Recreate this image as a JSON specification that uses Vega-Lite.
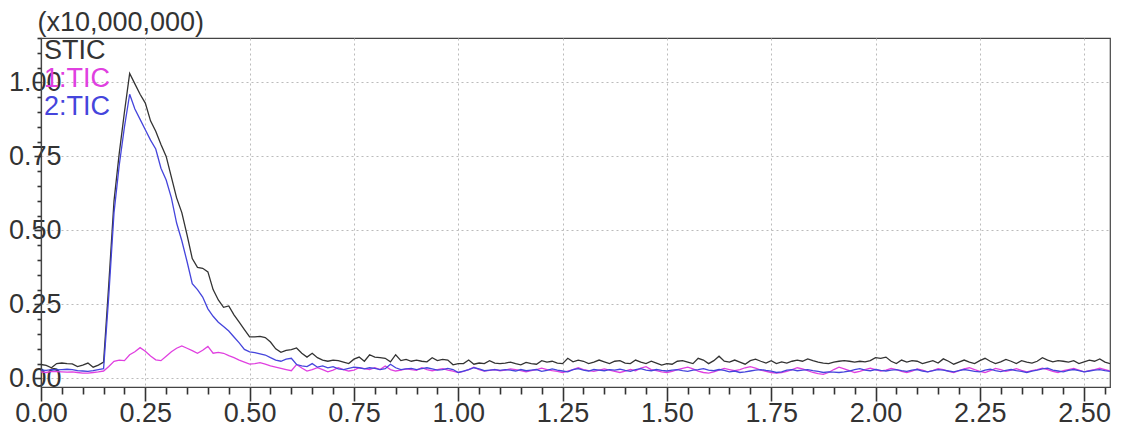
{
"$schema": "https://vega.github.io/schema/vega-lite/v6.json",
"width": 1069,
"height": 349,
"autosize": {"type": "none"},
"padding": {"left": 41, "top": 38, "right": 20, "bottom": 48},
"background": "white",
"config": {"view": {"stroke": "#444444", "strokeWidth": 1.2}, "font": "Liberation Sans"},
"data": {"values": [
{"t":0,"s":0.047,"a":0.022,"b":0.028},
{"t":0.0125,"s":0.044,"a":0.02,"b":0.027},
{"t":0.025,"s":0.036,"a":0.024,"b":0.03},
{"t":0.0375,"s":0.05,"a":0.023,"b":0.029},
{"t":0.05,"s":0.052,"a":0.022,"b":0.03},
{"t":0.0625,"s":0.05,"a":0.021,"b":0.031},
{"t":0.075,"s":0.049,"a":0.022,"b":0.03},
{"t":0.0875,"s":0.04,"a":0.02,"b":0.026},
{"t":0.1,"s":0.045,"a":0.018,"b":0.025},
{"t":0.1125,"s":0.052,"a":0.018,"b":0.024},
{"t":0.125,"s":0.038,"a":0.02,"b":0.026},
{"t":0.1375,"s":0.045,"a":0.022,"b":0.03},
{"t":0.15,"s":0.055,"a":0.025,"b":0.033},
{"t":0.1625,"s":0.32,"a":0.04,"b":0.28},
{"t":0.175,"s":0.6,"a":0.058,"b":0.56},
{"t":0.1875,"s":0.76,"a":0.062,"b":0.72},
{"t":0.2,"s":0.9,"a":0.06,"b":0.85},
{"t":0.2125,"s":1.03,"a":0.08,"b":0.96},
{"t":0.225,"s":0.995,"a":0.09,"b":0.91},
{"t":0.2375,"s":0.96,"a":0.104,"b":0.875},
{"t":0.25,"s":0.93,"a":0.092,"b":0.84},
{"t":0.2625,"s":0.87,"a":0.076,"b":0.805},
{"t":0.275,"s":0.835,"a":0.063,"b":0.775},
{"t":0.2875,"s":0.79,"a":0.06,"b":0.71},
{"t":0.3,"s":0.75,"a":0.075,"b":0.67},
{"t":0.3125,"s":0.68,"a":0.09,"b":0.61},
{"t":0.325,"s":0.61,"a":0.102,"b":0.525},
{"t":0.3375,"s":0.56,"a":0.11,"b":0.465},
{"t":0.35,"s":0.485,"a":0.102,"b":0.395},
{"t":0.3625,"s":0.405,"a":0.094,"b":0.32},
{"t":0.375,"s":0.375,"a":0.085,"b":0.3},
{"t":0.3875,"s":0.372,"a":0.095,"b":0.275},
{"t":0.4,"s":0.36,"a":0.108,"b":0.235},
{"t":0.4125,"s":0.3,"a":0.085,"b":0.21},
{"t":0.425,"s":0.265,"a":0.088,"b":0.19},
{"t":0.4375,"s":0.24,"a":0.085,"b":0.175},
{"t":0.45,"s":0.245,"a":0.077,"b":0.16},
{"t":0.4625,"s":0.215,"a":0.07,"b":0.14},
{"t":0.475,"s":0.19,"a":0.062,"b":0.12},
{"t":0.4875,"s":0.165,"a":0.055,"b":0.098},
{"t":0.5,"s":0.14,"a":0.048,"b":0.09},
{"t":0.5125,"s":0.14,"a":0.05,"b":0.087},
{"t":0.525,"s":0.142,"a":0.053,"b":0.083},
{"t":0.5375,"s":0.138,"a":0.048,"b":0.079},
{"t":0.55,"s":0.123,"a":0.042,"b":0.07},
{"t":0.5625,"s":0.1,"a":0.038,"b":0.062},
{"t":0.575,"s":0.088,"a":0.034,"b":0.058},
{"t":0.5875,"s":0.095,"a":0.03,"b":0.065},
{"t":0.6,"s":0.097,"a":0.026,"b":0.068},
{"t":0.6125,"s":0.103,"a":0.047,"b":0.047},
{"t":0.625,"s":0.085,"a":0.035,"b":0.042},
{"t":0.6375,"s":0.072,"a":0.025,"b":0.04},
{"t":0.65,"s":0.085,"a":0.03,"b":0.05},
{"t":0.6625,"s":0.07,"a":0.036,"b":0.038},
{"t":0.675,"s":0.062,"a":0.03,"b":0.042},
{"t":0.6875,"s":0.058,"a":0.022,"b":0.036},
{"t":0.7,"s":0.062,"a":0.028,"b":0.04},
{"t":0.7125,"s":0.06,"a":0.036,"b":0.032},
{"t":0.725,"s":0.055,"a":0.03,"b":0.03},
{"t":0.7375,"s":0.05,"a":0.025,"b":0.034},
{"t":0.75,"s":0.065,"a":0.028,"b":0.038},
{"t":0.7625,"s":0.072,"a":0.036,"b":0.036},
{"t":0.775,"s":0.058,"a":0.033,"b":0.032},
{"t":0.7875,"s":0.08,"a":0.03,"b":0.036},
{"t":0.8,"s":0.072,"a":0.036,"b":0.034},
{"t":0.8125,"s":0.07,"a":0.03,"b":0.03},
{"t":0.825,"s":0.068,"a":0.042,"b":0.033},
{"t":0.8375,"s":0.056,"a":0.03,"b":0.048},
{"t":0.85,"s":0.08,"a":0.025,"b":0.036},
{"t":0.8625,"s":0.06,"a":0.028,"b":0.03},
{"t":0.875,"s":0.064,"a":0.032,"b":0.032},
{"t":0.8875,"s":0.058,"a":0.03,"b":0.034},
{"t":0.9,"s":0.062,"a":0.027,"b":0.03},
{"t":0.9125,"s":0.058,"a":0.036,"b":0.033},
{"t":0.925,"s":0.056,"a":0.03,"b":0.036},
{"t":0.9375,"s":0.07,"a":0.026,"b":0.032},
{"t":0.95,"s":0.06,"a":0.03,"b":0.028},
{"t":0.9625,"s":0.064,"a":0.033,"b":0.03},
{"t":0.975,"s":0.062,"a":0.028,"b":0.034},
{"t":0.9875,"s":0.046,"a":0.025,"b":0.03},
{"t":1.0,"s":0.05,"a":0.02,"b":0.02},
{"t":1.0125,"s":0.05,"a":0.024,"b":0.025},
{"t":1.025,"s":0.062,"a":0.03,"b":0.03},
{"t":1.0375,"s":0.048,"a":0.038,"b":0.036},
{"t":1.05,"s":0.052,"a":0.03,"b":0.032},
{"t":1.0625,"s":0.05,"a":0.025,"b":0.026},
{"t":1.075,"s":0.06,"a":0.027,"b":0.028},
{"t":1.0875,"s":0.052,"a":0.03,"b":0.03},
{"t":1.1,"s":0.05,"a":0.026,"b":0.027},
{"t":1.1125,"s":0.052,"a":0.028,"b":0.03},
{"t":1.125,"s":0.055,"a":0.032,"b":0.028},
{"t":1.1375,"s":0.05,"a":0.03,"b":0.025},
{"t":1.15,"s":0.046,"a":0.026,"b":0.03},
{"t":1.1625,"s":0.054,"a":0.022,"b":0.026},
{"t":1.175,"s":0.05,"a":0.026,"b":0.028},
{"t":1.1875,"s":0.048,"a":0.03,"b":0.03},
{"t":1.2,"s":0.06,"a":0.035,"b":0.024},
{"t":1.2125,"s":0.055,"a":0.03,"b":0.027},
{"t":1.225,"s":0.058,"a":0.026,"b":0.032},
{"t":1.2375,"s":0.052,"a":0.024,"b":0.028},
{"t":1.25,"s":0.05,"a":0.02,"b":0.025},
{"t":1.2625,"s":0.068,"a":0.025,"b":0.022},
{"t":1.275,"s":0.056,"a":0.03,"b":0.03},
{"t":1.2875,"s":0.062,"a":0.036,"b":0.033},
{"t":1.3,"s":0.058,"a":0.03,"b":0.028},
{"t":1.3125,"s":0.05,"a":0.026,"b":0.025},
{"t":1.325,"s":0.055,"a":0.024,"b":0.03},
{"t":1.3375,"s":0.062,"a":0.028,"b":0.028},
{"t":1.35,"s":0.056,"a":0.032,"b":0.026},
{"t":1.3625,"s":0.05,"a":0.028,"b":0.03},
{"t":1.375,"s":0.058,"a":0.024,"b":0.028},
{"t":1.3875,"s":0.06,"a":0.02,"b":0.031},
{"t":1.4,"s":0.052,"a":0.025,"b":0.027},
{"t":1.4125,"s":0.05,"a":0.03,"b":0.024},
{"t":1.425,"s":0.062,"a":0.026,"b":0.03},
{"t":1.4375,"s":0.055,"a":0.035,"b":0.033},
{"t":1.45,"s":0.05,"a":0.04,"b":0.028},
{"t":1.4625,"s":0.058,"a":0.03,"b":0.026},
{"t":1.475,"s":0.052,"a":0.026,"b":0.03},
{"t":1.4875,"s":0.045,"a":0.022,"b":0.027},
{"t":1.5,"s":0.05,"a":0.02,"b":0.025},
{"t":1.5125,"s":0.048,"a":0.024,"b":0.028},
{"t":1.525,"s":0.058,"a":0.03,"b":0.03},
{"t":1.5375,"s":0.06,"a":0.034,"b":0.026},
{"t":1.55,"s":0.055,"a":0.038,"b":0.024},
{"t":1.5625,"s":0.05,"a":0.032,"b":0.028},
{"t":1.575,"s":0.068,"a":0.025,"b":0.03},
{"t":1.5875,"s":0.062,"a":0.02,"b":0.033},
{"t":1.6,"s":0.05,"a":0.018,"b":0.028},
{"t":1.6125,"s":0.06,"a":0.022,"b":0.026},
{"t":1.625,"s":0.075,"a":0.028,"b":0.03},
{"t":1.6375,"s":0.058,"a":0.034,"b":0.027},
{"t":1.65,"s":0.055,"a":0.03,"b":0.022},
{"t":1.6625,"s":0.062,"a":0.026,"b":0.025},
{"t":1.675,"s":0.055,"a":0.03,"b":0.02},
{"t":1.6875,"s":0.048,"a":0.036,"b":0.022},
{"t":1.7,"s":0.06,"a":0.04,"b":0.025},
{"t":1.7125,"s":0.065,"a":0.035,"b":0.028},
{"t":1.725,"s":0.058,"a":0.028,"b":0.03},
{"t":1.7375,"s":0.052,"a":0.024,"b":0.027},
{"t":1.75,"s":0.06,"a":0.02,"b":0.025},
{"t":1.7625,"s":0.05,"a":0.018,"b":0.02},
{"t":1.775,"s":0.056,"a":0.02,"b":0.022},
{"t":1.7875,"s":0.052,"a":0.024,"b":0.028},
{"t":1.8,"s":0.058,"a":0.03,"b":0.03},
{"t":1.8125,"s":0.062,"a":0.036,"b":0.026},
{"t":1.825,"s":0.058,"a":0.032,"b":0.028},
{"t":1.8375,"s":0.066,"a":0.026,"b":0.03},
{"t":1.85,"s":0.06,"a":0.02,"b":0.026},
{"t":1.8625,"s":0.055,"a":0.016,"b":0.024},
{"t":1.875,"s":0.052,"a":0.014,"b":0.02},
{"t":1.8875,"s":0.05,"a":0.02,"b":0.022},
{"t":1.9,"s":0.055,"a":0.03,"b":0.021},
{"t":1.9125,"s":0.058,"a":0.038,"b":0.02},
{"t":1.925,"s":0.06,"a":0.032,"b":0.022},
{"t":1.9375,"s":0.058,"a":0.026,"b":0.025},
{"t":1.95,"s":0.055,"a":0.02,"b":0.03},
{"t":1.9625,"s":0.058,"a":0.024,"b":0.033},
{"t":1.975,"s":0.056,"a":0.03,"b":0.028},
{"t":1.9875,"s":0.06,"a":0.035,"b":0.026},
{"t":2.0,"s":0.07,"a":0.03,"b":0.03},
{"t":2.0125,"s":0.068,"a":0.025,"b":0.027},
{"t":2.025,"s":0.072,"a":0.028,"b":0.025},
{"t":2.0375,"s":0.058,"a":0.034,"b":0.028},
{"t":2.05,"s":0.05,"a":0.03,"b":0.03},
{"t":2.0625,"s":0.062,"a":0.024,"b":0.026},
{"t":2.075,"s":0.055,"a":0.02,"b":0.024},
{"t":2.0875,"s":0.06,"a":0.025,"b":0.028},
{"t":2.1,"s":0.058,"a":0.032,"b":0.03},
{"t":2.1125,"s":0.05,"a":0.028,"b":0.025},
{"t":2.125,"s":0.055,"a":0.022,"b":0.022},
{"t":2.1375,"s":0.06,"a":0.026,"b":0.026},
{"t":2.15,"s":0.052,"a":0.033,"b":0.03},
{"t":2.1625,"s":0.066,"a":0.03,"b":0.028},
{"t":2.175,"s":0.058,"a":0.024,"b":0.025},
{"t":2.1875,"s":0.048,"a":0.02,"b":0.022},
{"t":2.2,"s":0.055,"a":0.026,"b":0.026},
{"t":2.2125,"s":0.062,"a":0.032,"b":0.03},
{"t":2.225,"s":0.055,"a":0.036,"b":0.027},
{"t":2.2375,"s":0.05,"a":0.03,"b":0.024},
{"t":2.25,"s":0.06,"a":0.024,"b":0.022},
{"t":2.2625,"s":0.068,"a":0.02,"b":0.028},
{"t":2.275,"s":0.058,"a":0.026,"b":0.031},
{"t":2.2875,"s":0.05,"a":0.034,"b":0.026},
{"t":2.3,"s":0.056,"a":0.03,"b":0.023},
{"t":2.3125,"s":0.064,"a":0.024,"b":0.027},
{"t":2.325,"s":0.058,"a":0.028,"b":0.03},
{"t":2.3375,"s":0.05,"a":0.033,"b":0.026},
{"t":2.35,"s":0.06,"a":0.027,"b":0.024},
{"t":2.3625,"s":0.055,"a":0.022,"b":0.02},
{"t":2.375,"s":0.052,"a":0.026,"b":0.025},
{"t":2.3875,"s":0.058,"a":0.03,"b":0.028},
{"t":2.4,"s":0.07,"a":0.035,"b":0.032},
{"t":2.4125,"s":0.062,"a":0.03,"b":0.035},
{"t":2.425,"s":0.056,"a":0.024,"b":0.028},
{"t":2.4375,"s":0.06,"a":0.02,"b":0.025},
{"t":2.45,"s":0.058,"a":0.026,"b":0.022},
{"t":2.4625,"s":0.055,"a":0.03,"b":0.027},
{"t":2.475,"s":0.06,"a":0.034,"b":0.03},
{"t":2.4875,"s":0.05,"a":0.028,"b":0.026},
{"t":2.5,"s":0.056,"a":0.022,"b":0.022},
{"t":2.5125,"s":0.062,"a":0.026,"b":0.025},
{"t":2.525,"s":0.058,"a":0.03,"b":0.028},
{"t":2.5375,"s":0.066,"a":0.035,"b":0.03},
{"t":2.55,"s":0.055,"a":0.03,"b":0.026},
{"t":2.5625,"s":0.05,"a":0.025,"b":0.024}
]},
"transform": [{"fold": ["s", "a", "b"], "as": ["series", "value"]}],
"mark": {"type": "line", "strokeWidth": 1.3, "clip": true},
"encoding": {
  "x": {"field": "t", "type": "quantitative",
    "scale": {"domain": [0, 2.562], "nice": false, "zero": false},
    "axis": {"title": null, "values": [0,0.05,0.1,0.15,0.2,0.25,0.3,0.35,0.4,0.45,0.5,0.55,0.6,0.65,0.7,0.75,0.8,0.85,0.9,0.95,1,1.05,1.1,1.15,1.2,1.25,1.3,1.35,1.4,1.45,1.5,1.55,1.6,1.65,1.7,1.75,1.8,1.85,1.9,1.95,2,2.05,2.1,2.15,2.2,2.25,2.3,2.35,2.4,2.45,2.5,2.55],
      "labelExpr": "abs(datum.value*4 - round(datum.value*4)) < 0.001 ? format(datum.value, '.2f') : ''",
      "labelOverlap": false, "labelFlush": false, "labelBound": false,
      "labelFontSize": 27, "labelColor": "#333333", "labelPadding": -1,
      "domain": true, "domainColor": "#444444", "domainWidth": 1.2,
      "tickColor": "#333333", "tickWidth": 1.6,
      "tickSize": {"condition": {"test": "abs(datum.value*4 - round(datum.value*4)) < 0.001", "value": 14}, "value": 7},
      "grid": true, "gridColor": "#bbbbbb", "gridDash": [2, 3], "gridWidth": 1,
      "gridOpacity": {"condition": {"test": "abs(datum.value*4 - round(datum.value*4)) < 0.001", "value": 1}, "value": 0}
    }
  },
  "y": {"field": "value", "type": "quantitative",
    "scale": {"domain": [-0.029, 1.15], "nice": false, "zero": false},
    "axis": {"title": "(x10,000,000)", "titleAngle": 0, "titleAlign": "left", "titleBaseline": "alphabetic",
      "titleX": -4, "titleY": -8, "titleFontSize": 27, "titleFontWeight": "normal", "titleColor": "#333333",
      "values": [0,0.05,0.1,0.15,0.2,0.25,0.3,0.35,0.4,0.45,0.5,0.55,0.6,0.65,0.7,0.75,0.8,0.85,0.9,0.95,1,1.05,1.1,1.15],
      "labelExpr": "abs(datum.value*4 - round(datum.value*4)) < 0.001 ? format(datum.value, '.2f') : ''",
      "labelOverlap": false, "labelFlush": false, "labelBound": false,
      "labelFontSize": 27, "labelColor": "#333333", "labelPadding": -27, "labelAlign": "right", "labelBaseline": "middle",
      "domain": true, "domainColor": "#444444", "domainWidth": 1.2,
      "tickColor": "#333333", "tickWidth": 1.6,
      "tickSize": {"condition": {"test": "abs(datum.value*4 - round(datum.value*4)) < 0.001", "value": 7}, "value": 4},
      "grid": true, "gridColor": "#bbbbbb", "gridDash": [2, 3], "gridWidth": 1,
      "gridOpacity": {"condition": {"test": "abs(datum.value*4 - round(datum.value*4)) < 0.001", "value": 1}, "value": 0}
    }
  },
  "color": {"field": "series", "type": "nominal",
    "scale": {"domain": ["s", "a", "b"], "range": ["#333333", "#e040e0", "#4545dc"]},
    "legend": {"orient": "none", "legendX": -24, "legendY": -1, "title": null, "padding": 0,
      "labelExpr": "datum.value === 's' ? 'STIC' : datum.value === 'a' ? '1:TIC' : '2:TIC'",
      "labelFontSize": 27, "labelOffset": 0, "rowPadding": 0,
      "symbolSize": 0, "symbolStrokeWidth": 0, "symbolOpacity": 0,
      "encode": {"labels": {"update": {"fill": {"scale": "color", "field": "value"}}}}
    }
  }
}
}
